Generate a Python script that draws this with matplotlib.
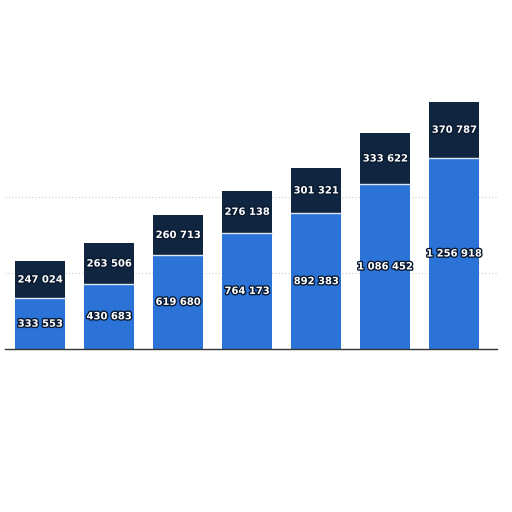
import matplotlib
matplotlib.use("Agg")
import matplotlib.pyplot as plt
import matplotlib.patheffects as pe
import numpy as np

categories = ["1", "2", "3", "4", "5", "6", "7"]
bottom_vals = [333553, 430683, 619680, 764173, 892383, 1086452, 1256918]
top_vals = [247024, 263506, 260713, 276138, 301321, 333622, 370787]
grid_vals = [500000, 1000000]

blue = "#2b73d7"
navy = "#10253f"

def fmt(v):
    return f"{v:,}".replace(",", " ")

fig = plt.figure(figsize=(5.12, 5.12), dpi=100)
ax = fig.add_axes([5/512, (512-349)/512, (497-5)/512, (349-95)/512])
x = np.arange(len(categories))
w = 0.725
ax.bar(x, bottom_vals, width=w, color=blue, zorder=2)
ax.bar(x, top_vals, width=w, bottom=bottom_vals, color=navy, zorder=2,
       linewidth=0)
for xi, b in zip(x, bottom_vals):
    ax.plot([xi - w/2, xi + w/2], [b, b], color="#dde8f5", lw=1.0, zorder=3)

effects = [pe.withStroke(linewidth=2, foreground="#0a1a30")]
for xi, b, t in zip(x, bottom_vals, top_vals):
    ax.text(xi, b/2, fmt(b), ha="center", va="center", color="white",
            fontsize=7.2, fontweight="bold", zorder=4, path_effects=effects)
    ax.text(xi, b + t/2, fmt(t), ha="center", va="center", color="white",
            fontsize=7.2, fontweight="bold", zorder=4, path_effects=effects)

ax.set_xlim(-0.51, 6.62)
ax.set_ylim(0, 1671000)
ax.set_yticks(grid_vals)
ax.yaxis.grid(True, linestyle=(0, (1, 2)), color="#cccccc", lw=0.8, zorder=0)
ax.tick_params(left=False, bottom=False, labelleft=False, labelbottom=False)
for s in ["top", "right", "left"]:
    ax.spines[s].set_visible(False)
ax.spines["bottom"].set_color("#333333")
ax.spines["bottom"].set_linewidth(1.0)
ax.spines["bottom"].set_zorder(5)

fig.savefig("out.png", dpi=100, facecolor="white")
